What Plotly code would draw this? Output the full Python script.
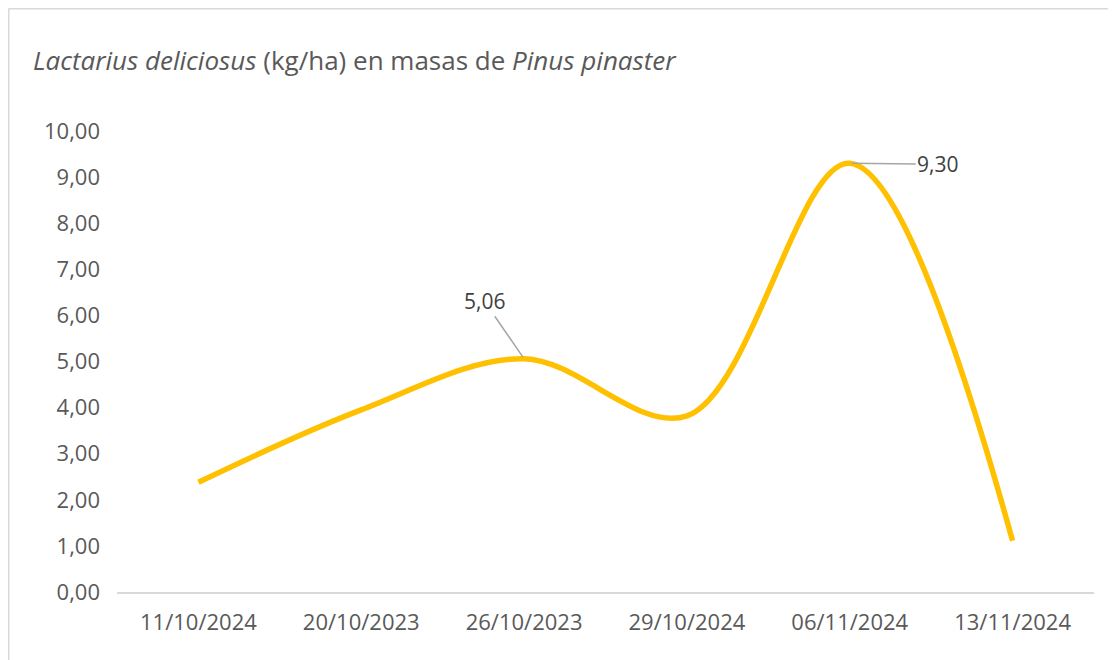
import plotly.graph_objects as go

categories = ["11/10/2024", "20/10/2023", "26/10/2023", "29/10/2024", "06/11/2024", "13/11/2024"]
values = [2.38, 3.95, 5.06, 3.82, 9.30, 1.11]
y_ticks = [0, 1, 2, 3, 4, 5, 6, 7, 8, 9, 10]
y_tick_labels = [f"{v:.2f}".replace(".", ",") for v in y_ticks]
labelled = {2: (-40, -58), 4: (88, 1)}

W, H = 1116, 660
OFF = 8  # page body margin offset
ml, mt = 117 - OFF, 131 - OFF
pw, ph = 977, 461
mr, mb = W - ml - pw, H - mt - ph

fig = go.Figure()
fig.add_trace(go.Scatter(
    x=categories, y=values, mode="lines",
    line=dict(color="#FFC000", width=5.5, shape="spline", smoothing=1.0),
    hoverinfo="skip", showlegend=False,
))

for i, (ax, ay) in labelled.items():
    fig.add_annotation(
        x=categories[i], y=values[i],
        text=f"{values[i]:.2f}".replace(".", ","),
        showarrow=True, arrowhead=0, arrowwidth=1.5, arrowcolor="#A6A6A6",
        ax=ax, ay=ay, standoff=2, startstandoff=0,
        font=dict(family="Open Sans", size=21, color="#404040"),
    )

# Chart border (top and left visible)
x0 = (0.5 - ml) / pw
x1 = (W - ml) / pw
y_top = 1 + (mt - 0.5) / ph
y_bot = -(mb + 2) / ph
fig.add_shape(type="line", xref="paper", yref="paper", x0=x0, x1=x1, y0=y_top, y1=y_top,
              line=dict(color="#D9D9D9", width=2))
fig.add_shape(type="line", xref="paper", yref="paper", x0=x0, x1=x0, y0=y_bot, y1=y_top,
              line=dict(color="#D9D9D9", width=2))

fig.update_layout(
    width=W, height=H,
    margin=dict(l=ml, r=mr, t=mt, b=mb),
    paper_bgcolor="white", plot_bgcolor="white",
    title=dict(
        text="<i>Lactarius deliciosus</i> (kg/ha) en masas de <i>Pinus pinaster</i>",
        x=(33 - OFF) / W, xanchor="left", y=1 - (61 - OFF) / H, yanchor="middle",
        font=dict(family="Open Sans", size=26, color="#595959"),
    ),
    xaxis=dict(
        type="category", showgrid=False, showline=True, linecolor="#D9D9D9", linewidth=2,
        ticks="", ticklabelstandoff=10,
        tickfont=dict(family="Open Sans", size=22, color="#595959"),
        range=[-0.5, len(categories) - 0.5],
    ),
    yaxis=dict(
        range=[0, 10], tickvals=y_ticks, ticktext=y_tick_labels, showgrid=False,
        zeroline=False, showline=False, ticks="", ticklabelstandoff=16,
        tickfont=dict(family="Open Sans", size=22, color="#595959"),
    ),
)

fig.write_html("out.html")
